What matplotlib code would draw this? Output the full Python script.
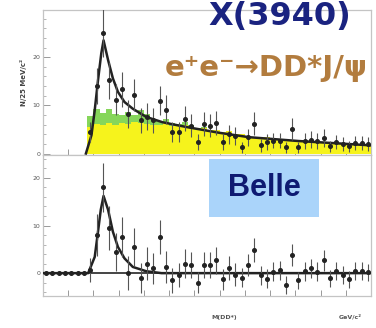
import matplotlib
matplotlib.use("Agg")
import matplotlib.pyplot as plt
import numpy as np
from matplotlib.patches import Rectangle
from matplotlib.ticker import MultipleLocator, NullFormatter

# M(DD*) histogram, 25 MeV bins from 3.7 to 5.0 GeV/c^2
bin_width = 0.025
m_lo, m_hi = 3.7, 5.0
edges = np.arange(m_lo, m_hi + bin_width / 2, bin_width)
centers = edges[:-1] + bin_width / 2
first_bin = 7  # first bin above DD* threshold

# upper panel: events per bin and errors (bins 7..51)
n_top = [4.4, 14, 25, 15.2, 11.2, 13.3, 8.3, 12.1, 6.9, 7.6, 6.9, 11, 9.1, 4.4,
         4.4, 7.2, 5.8, 2.4, 6.2, 5.8, 6.3, 2.4, 4.0, 3.7, 1.3, 3.4, 6.2, 1.7,
         2.4, 2.7, 2.7, 1.3, 5.1, 1.3, 2.6, 2.9, 2.6, 3.2, 1.5, 2.4, 2.0, 1.5,
         2.2, 2.2, 2.0]
err_top = [2.1, 3.7, 5.0, 3.9, 3.3, 3.6, 2.9, 3.3, 2.6, 2.8, 2.6, 3.1, 3.0, 2.1,
           2.1, 2.6, 2.4, 1.6, 2.5, 2.4, 2.5, 1.6, 2.0, 1.9, 1.2, 1.8, 2.4, 1.3,
           1.6, 1.6, 1.6, 1.2, 2.2, 1.2, 1.6, 1.7, 1.6, 1.8, 1.2, 1.5, 1.4, 1.2,
           1.5, 1.5, 1.4]

# background histograms (bins 7..51)
bkg_yellow = [5.6, 6.2, 6.0, 6.4, 5.9, 6.3, 6.1, 6.6, 6.4, 6.2, 6.0, 6.0, 6.3,
              5.8, 5.7, 5.9, 5.5, 5.2, 5.4, 4.9, 4.8, 4.5, 4.6, 4.0, 4.1, 3.7,
              3.5, 3.3, 3.4, 3.0, 2.9, 3.0, 2.7, 2.5, 2.6, 2.3, 2.2, 2.4, 2.1,
              2.0, 2.1, 1.9, 1.8, 1.9, 1.7]
bkg_green = [7.8, 9.2, 8.4, 9.3, 8.3, 8.0, 8.6, 7.9, 9.0, 8.2, 7.0, 6.6, 7.2,
             6.4, 6.2, 6.5, 5.9, 5.4, 5.6, 0, 0, 0, 0, 0, 0, 0, 0, 0, 0, 0, 0,
             0, 0, 0, 0, 0, 0, 0, 0, 0, 0, 0, 0, 0, 0]

# fit curve, signal + background
fit_top_m = [3.870, 3.892, 3.905, 3.918, 3.931, 3.940, 3.958, 3.977,
             3.997, 4.023, 4.056, 4.109, 4.174, 4.240, 4.280, 4.400, 4.516,
             4.713, 5.000]
fit_top_n = [0, 3.8, 9.0, 15.2, 20.8, 23.5, 19.4, 15.6, 12.8, 10.7, 9.3,
             7.6, 6.5, 5.8, 5.4, 4.3, 3.4, 2.6, 1.7]

# lower panel: background-subtracted yield (bins 0..51)
n_sub = [0, 0, 0, 0, 0, 0, 0, 0.6, 8, 18, 9.5, 4.5, 7.6, 0, 5.5, -1, 2, 1,
         7.6, 1.3, -1.5, -0.4, 2, 1.7, -2, 1.7, 1.7, 2.7, -1.3, 1.1, -0.3, -1,
         1.7, 4.8, -0.4, -1.2, 0.3, 0.6, -2.5, 3.9, -1.5, 0.4, 1, 0.3, 2.7,
         -1.1, 0.4, -0.4, -1.3, 0.4, 0.4, 0.2]
err_sub = [0, 0, 0, 0, 0, 0, 0, 2.5, 4.5, 5.2, 4.6, 4.0, 4.2, 3.6, 4.0, 3.2,
           3.4, 3.2, 3.5, 3.4, 2.6, 2.6, 3.0, 2.8, 2.2, 2.8, 2.8, 2.8, 2.2,
           2.5, 2.4, 2.0, 2.3, 2.5, 2.0, 2.0, 2.0, 2.0, 1.8, 2.3, 1.8, 2.0,
           2.0, 2.0, 2.2, 1.8, 1.9, 1.9, 1.8, 1.9, 1.9, 1.8]

# signal-only fit curve
fit_sub_m = [3.700, 3.879, 3.905, 3.918, 3.929, 3.940, 3.958, 3.977, 3.997,
             4.023, 4.056, 4.109, 4.170, 5.000]
fit_sub_n = [0, 0, 3.4, 8.7, 13.3, 16.2, 13.3, 8.7, 5.5, 3.1, 1.3, 0.4, 0, 0]

W, H = 376, 328
fig = plt.figure(figsize=(W / 100, H / 100), dpi=100)
fig.patch.set_facecolor("white")

def px_box(x0, y0, x1, y1):
    return [x0 / W, 1 - y1 / H, (x1 - x0) / W, (y1 - y0) / H]

ax1 = fig.add_axes(px_box(43, 10, 371, 155))
ax2 = fig.add_axes(px_box(43, 155, 371, 296))

for ax in (ax1, ax2):
    ax.set_xlim(m_lo, m_hi)
    ax.xaxis.set_major_locator(MultipleLocator(0.1))
    ax.xaxis.set_major_formatter(NullFormatter())
    ax.yaxis.set_major_locator(MultipleLocator(10))
    ax.yaxis.set_minor_locator(MultipleLocator(2))
    ax.tick_params(axis="x", direction="in", length=4, width=0.7,
                   color="#999999", bottom=True, top=False)
    ax.tick_params(axis="y", which="major", direction="in", length=5,
                   width=0.7, color="#999999", labelsize=4.5,
                   labelcolor="#555555", pad=2)
    ax.tick_params(axis="y", which="minor", direction="in", length=2.5,
                   width=0.6, color="#aaaaaa")
    for s in ax.spines.values():
        s.set_color("#c4c4c4")
        s.set_linewidth(0.9)

# upper panel
ax1.set_ylim(-0.3, 29.8)
ax1.stairs(bkg_green, edges[first_bin:], fill=True, color="#86d65a", zorder=1)
ax1.stairs(bkg_yellow, edges[first_bin:], fill=True, color="#f6f31c", zorder=2)
ax1.plot(fit_top_m, fit_top_n, color="#222222", lw=1.8, zorder=3)
ax1.errorbar(centers[first_bin:], n_top, yerr=err_top, fmt="o", ms=2.6,
             color="#222222", ecolor="#555555", elinewidth=0.8, capsize=0,
             zorder=4)
ax1.set_ylabel("N/25 MeV/c²", fontsize=5, color="#444444", labelpad=4,
               fontweight="bold")

# lower panel
ax2.set_ylim(-4.8, 24.8)
ax2.axhline(0, color="#444444", lw=1.4, zorder=2)
ax2.plot(fit_sub_m, fit_sub_n, color="#222222", lw=1.8, zorder=3)
ax2.errorbar(centers, n_sub, yerr=err_sub, fmt="o", ms=2.6,
             color="#222222", ecolor="#555555", elinewidth=0.8, capsize=0,
             zorder=4)

fig.text(224 / W, 1 - 317 / H, "M(DD*)", fontsize=4.5, color="#555555",
         ha="center", va="center", fontweight="bold")
fig.text(350 / W, 1 - 317 / H, "GeV/c²", fontsize=4.5, color="#555555",
         ha="center", va="center", fontweight="bold")

# headline and reaction
fig.text(280 / W, 1 - 25 / H, "X(3940)", fontsize=23, fontweight="bold",
         color="#1a2380", ha="center", va="baseline")
fig.text(266 / W, 1 - 76 / H, "e⁺e⁻→DD*J/ψ", fontsize=21, fontweight="bold",
         color="#b27c3e", ha="center", va="baseline")

# experiment badge
fig.patches.append(Rectangle((209 / W, 1 - 217 / H), 110 / W, 58 / H,
                             transform=fig.transFigure, facecolor="#aad4fa",
                             edgecolor="none", zorder=5))
fig.text(264 / W, 1 - 188 / H, "Belle", fontsize=22, fontweight="bold",
         family="Liberation Sans", color="#0e1a72", ha="center",
         va="center", zorder=6)

fig.savefig("out.png", dpi=100)
